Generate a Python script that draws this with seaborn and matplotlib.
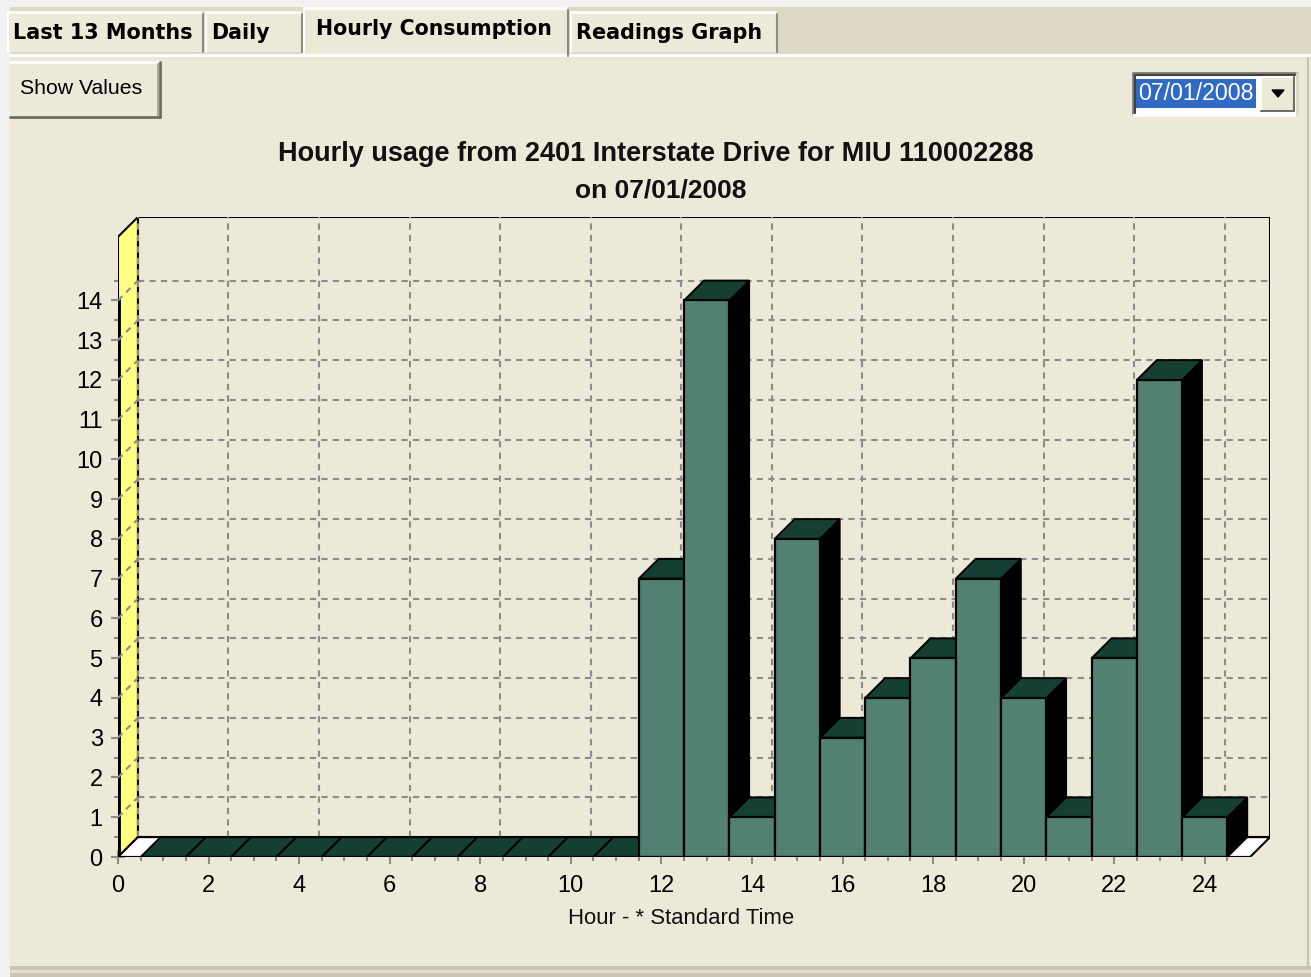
import matplotlib
matplotlib.use("Agg")
import matplotlib.pyplot as plt
import seaborn as sns
import numpy as np
from matplotlib.patches import Polygon, Rectangle
from matplotlib.lines import Line2D

# ---------------- data ----------------
hours = list(range(1, 25))
usage = [0, 0, 0, 0, 0, 0, 0, 0, 0, 0, 0, 7, 14, 1, 8, 3, 4, 5, 7, 4, 1, 5, 12, 1]
x_tick_values = list(range(0, 25, 2))
y_tick_values = list(range(0, 15))
title_line1 = "Hourly usage from 2401 Interstate Drive for MIU 110002288"
title_line2 = "on 07/01/2008"
x_label = "Hour - * Standard Time"
tab_labels = ["Last 13 Months", "Daily", "Hourly Consumption", "Readings Graph"]
button_label = "Show Values"
date_value = "07/01/2008"

# ---------------- style ----------------
W, H = 1311, 977
BG = "#ECE9D8"
FRONT = "#528174"
TOP = "#143F32"
YELLOW = "#FFFF80"
GRID = "#8C8C8C"
NARROW = ["Liberation Sans Narrow", "Liberation Sans", "DejaVu Sans"]

sns.set_theme(style="white")
plt.rcParams["font.family"] = NARROW

fig = plt.figure(figsize=(W / 100, H / 100), dpi=100)
fig.patch.set_facecolor(BG)
renderer = fig.canvas.get_renderer()


def fit_text(x, y, s, target_w, ha="left", va="center", **kw):
    t = fig.text(x / W, 1 - y / H, s, ha=ha, va=va, fontsize=10, **kw)
    w = t.get_window_extent(renderer).width
    t.set_fontsize(10 * target_w / w)
    return t


# ---------------- window chrome (pixel space) ----------------
ui = fig.add_axes([0, 0, 1, 1])
ui.set_xlim(0, W)
ui.set_ylim(H, 0)
ui.axis("off")
ui.set_zorder(0)

ui.add_patch(Rectangle((0, 0), W, H, fc=BG, ec="none"))
ui.add_patch(Rectangle((0, 0), W, 7, fc="#F1F1F1", ec="none"))
ui.add_patch(Rectangle((0, 0), 10, H, fc="#F1F1F1", ec="none"))
ui.add_patch(Rectangle((10, 7), W - 10, 47, fc="#DED9C4", ec="none"))
ui.add_patch(Rectangle((10, 966), W - 10, 4, fc="#C9C5B2", ec="none"))
ui.add_patch(Rectangle((10, 970), W - 10, 3, fc="#E2DFCE", ec="none"))
ui.add_patch(Rectangle((10, 973), W - 10, 4, fc="#C9C5B2", ec="none"))
# panel top highlight
ui.plot([10, W], [55, 55], color="white", lw=2)
ui.plot([W - 3, W - 3], [58, 966], color="#C9C5B2", lw=1.5)

# tabs: (x0, x1, selected)
tab_geo = [(8, 203, False), (206, 302, False), (304, 568, True), (571, 777, False)]
tab_text_w = [180, 58, 236, 186]
for (x0, x1, sel), lab, tw in zip(tab_geo, tab_labels, tab_text_w):
    top = 8 if sel else 12
    bot = 56 if sel else 52
    ui.add_patch(Rectangle((x0, top), x1 - x0, bot - top, fc=BG if sel else "#EDEAD9", ec="none"))
    ui.plot([x0, x1 - 2], [top, top], color="white", lw=2)
    ui.plot([x0, x0], [top, bot], color="white", lw=1.5)
    ui.plot([x1, x1], [top + 2, bot], color="#8E8C80", lw=1.5)
    cy = 29 if sel else 33
    fit_text(x0 + (12 if sel else 5), cy, lab, tw, ha="left", va="center",
             fontweight="bold", color="black", family=["DejaVu Sans"])

# Show Values button
bx0, by0, bx1, by1 = 10, 62, 160, 117
ui.add_patch(Rectangle((bx0, by0), bx1 - bx0, by1 - by0, fc=BG, ec="none"))
ui.plot([bx0, bx1], [by0, by0], color="white", lw=2)
ui.plot([bx1, bx1], [by0, by1], color="#6E6C64", lw=2)
ui.plot([bx0, bx1], [by1, by1], color="#6E6C64", lw=2)
ui.plot([bx1 - 2, bx1 - 2], [by0 + 2, by1 - 2], color="#ACA899", lw=1.5)
fit_text(20, 89, button_label, 123, ha="left", va="center", color="black")

# Date combo box
cx0, cy0, cx1, cy1 = 1133, 73, 1297, 115
ui.add_patch(Rectangle((cx0, cy0), cx1 - cx0, cy1 - cy0, fc="white", ec="none"))
ui.plot([cx0, cx1], [cy0, cy0], color="#7F7D73", lw=2)
ui.plot([cx0, cx0], [cy0, cy1], color="#7F7D73", lw=2)
ui.plot([cx0 + 2, cx1 - 2], [cy0 + 2, cy0 + 2], color="#404040", lw=1.5)
ui.plot([cx0 + 2, cx0 + 2], [cy0 + 2, cy1 - 2], color="#404040", lw=1.5)
ui.plot([cx0, cx1], [cy1, cy1], color="white", lw=2)
ui.plot([cx1, cx1], [cy0, cy1], color="#DCD8C8", lw=2)
ui.add_patch(Rectangle((1136, 79), 120, 29, fc="#316AC5", ec="none"))
fit_text(1138, 93, date_value, 116, ha="left", va="center", color="white")
# dropdown button
ui.add_patch(Rectangle((1261, 77), 33, 34, fc=BG, ec="none"))
ui.plot([1261, 1294], [77, 77], color="white", lw=1.5)
ui.plot([1261, 1261], [77, 111], color="white", lw=1.5)
ui.plot([1294, 1294], [77, 111], color="#6E6C64", lw=1.5)
ui.plot([1261, 1294], [111, 111], color="#6E6C64", lw=1.5)
ui.add_patch(Polygon([(1272, 90), (1284, 90), (1278, 97)], closed=True, fc="black", ec="black"))

# ---------------- chart ----------------
XMAX = 25.0
YMAX = 15.6
DX, DY = 0.44, 0.5

left_px, right_px, top_px, bottom_px = 118, 1270, 217, 857
ax = fig.add_axes([left_px / W, (H - bottom_px) / H,
                   (right_px - left_px) / W, (bottom_px - top_px) / H])
ax.set_zorder(1)
ax.patch.set_alpha(0)

sns.barplot(x=hours, y=usage, native_scale=True, width=1, color=FRONT,
            saturation=1, edgecolor="black", linewidth=1.6, ax=ax, errorbar=None)

ax.set_xlim(0, XMAX + DX)
ax.set_ylim(0, YMAX + DY)
for s in ax.spines.values():
    s.set_visible(False)

# back wall
ax.add_patch(Rectangle((DX, DY), XMAX, YMAX, fc=BG, ec="black", lw=1.5, zorder=0.5))
# grid on back wall
for yv in y_tick_values[1:]:
    ax.add_line(Line2D([DX, XMAX + DX], [yv + DY, yv + DY], color=GRID, lw=1.5,
                       ls=(0, (3, 2.5)), zorder=0.7))
for xv in x_tick_values[1:]:
    ax.add_line(Line2D([xv + DX, xv + DX], [DY, YMAX + DY], color=GRID, lw=1.5,
                       ls=(0, (3, 2.5)), zorder=0.7))
# yellow side wall
ax.add_patch(Polygon([(0, 0), (DX, DY), (DX, YMAX + DY), (0, YMAX)], closed=True,
                     fc=YELLOW, ec="black", lw=1.5, zorder=1))
ax.add_line(Line2D([0, 0], [0, max(usage)], color="black", lw=3.5, zorder=1.1))
for yv in y_tick_values[1:]:
    ax.add_line(Line2D([0, DX], [yv, yv + DY], color=GRID, lw=1.5,
                       ls=(0, (3, 2.5)), zorder=1.2))
ax.add_line(Line2D([DX, DX], [DY, YMAX + DY], color=GRID, lw=1.5,
                   ls=(0, (3, 2.5)), zorder=1.2))
# floor
ax.add_patch(Polygon([(0, 0), (XMAX, 0), (XMAX + DX, DY), (DX, DY)], closed=True,
                     fc="white", ec="black", lw=1.5, zorder=2))

# 3D faces derived from the seaborn bars
bars = sorted(ax.patches[:0] + [p for p in ax.patches if p.__class__.__name__ == "Rectangle"
                                 and p.get_zorder() not in (0.5,)], key=lambda p: p.get_x())
bars = [p for p in bars if abs(p.get_width() - 1) < 1e-6]
for i, p in enumerate(bars):
    x0 = p.get_x()
    x1 = x0 + p.get_width()
    h = p.get_height()
    z = 3 + i * 0.01
    ax.add_patch(Polygon([(x1, 0), (x1 + DX, DY), (x1 + DX, h + DY), (x1, h)], closed=True,
                         fc="black", ec="black", lw=1.2, zorder=z))
    ax.add_patch(Polygon([(x0, h), (x1, h), (x1 + DX, h + DY), (x0 + DX, h + DY)], closed=True,
                         fc=TOP, ec="black", lw=1.4, zorder=z + 0.003))
    p.set_zorder(z + 0.006)

# front axis line
ax.add_line(Line2D([0, XMAX], [0, 0], color="black", lw=1.5, zorder=5))

# ticks
ax.set_xticks(x_tick_values)
ax.set_xticklabels([str(v) for v in x_tick_values])
ax.set_xticks(np.arange(0, 24.51, 0.5), minor=True)
ax.set_yticks(y_tick_values)
ax.set_yticklabels([str(v) for v in y_tick_values])
ax.set_yticks(np.arange(0, 14.51, 0.5), minor=True)
ax.tick_params(axis="both", which="major", direction="inout", length=10, width=1.5,
               color="#8C8C8C", labelsize=17, labelcolor="black", bottom=True, left=True)
ax.tick_params(axis="both", which="minor", direction="inout", length=6, width=1.5,
               color="#8C8C8C", bottom=True, left=True)
ax.tick_params(axis="x", which="major", pad=8)
ax.tick_params(axis="y", which="major", pad=6)
ax.set_xlabel("")
ax.set_ylabel("")

# titles / label in pixel positions
fit_text(656, 154, title_line1, 754, ha="center", va="center", fontweight="bold", color="#111111")
fit_text(661, 190, title_line2, 172, ha="center", va="center", fontweight="bold", color="#111111")
fit_text(681, 918, x_label, 227, ha="center", va="center", color="#111111")

fig.savefig("out.png", dpi=100, facecolor=fig.get_facecolor())
